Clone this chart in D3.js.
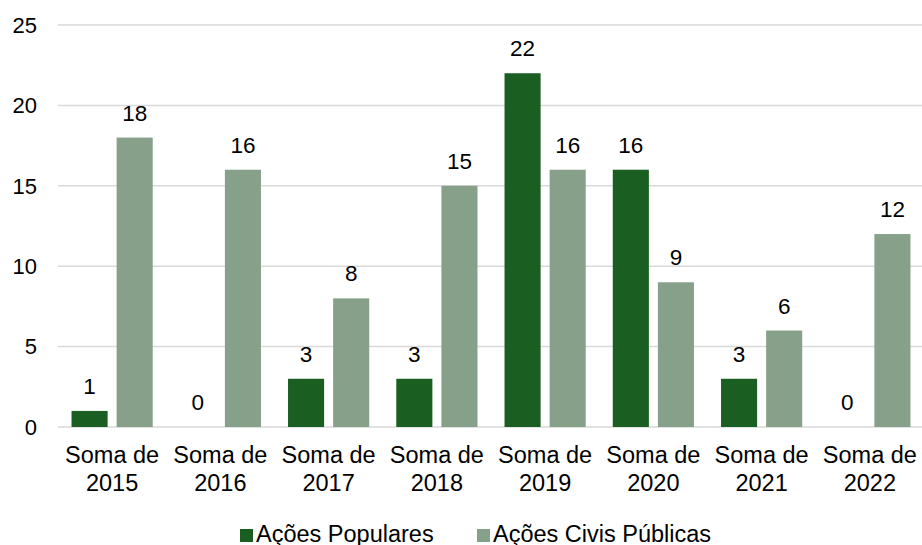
<!DOCTYPE html>
<html>
<head>
<meta charset="utf-8">
<script src="https://cdn.jsdelivr.net/npm/d3@7"></script>
<style>
    body { margin: 0; background: #fff; }
    svg { display: block; font-family: "Liberation Sans", Arial, sans-serif; }
</style>
</head>
<body>
<svg width="922" height="545"></svg>
<script>
// chart data
const years = ["2015", "2016", "2017", "2018", "2019", "2020", "2021", "2022"];
const seriesNames = ["Ações Populares", "Ações Civis Públicas"];
const acoesPopulares = [1, 0, 3, 3, 22, 16, 3, 0];
const acoesCivisPublicas = [18, 16, 8, 15, 16, 9, 6, 12];
const yTicks = [0, 5, 10, 15, 20, 25];
const colors = ["#1a5e21", "#87a08a"];

const margin = { top: 25, left: 58, right: -2, bottom: 118 },
    width = 922 - margin.left - margin.right,
    height = 545 - margin.top - margin.bottom;

const svg = d3.select("svg");
const g = svg.append("g")
    .attr("transform", "translate(" + margin.left + "," + margin.top + ")");

const x = d3.scaleBand()
    .domain(years)
    .range([0, width])
    .paddingInner(0)
    .paddingOuter(0);

const inner = d3.scaleBand()
    .domain(seriesNames)
    .range([x.bandwidth() * 0.125, x.bandwidth() * 0.875])
    .paddingInner(0.2);

const y = d3.scaleLinear()
    .domain([0, 25])
    .range([height, 0]);

// gridlines
g.selectAll(".grid")
    .data(yTicks)
    .enter()
    .append("line")
        .attr("x1", 0)
        .attr("x2", width)
        .attr("y1", d => y(d))
        .attr("y2", d => y(d))
        .attr("stroke", "#d9d9d9")
        .attr("stroke-width", 1.5);

// y tick labels
g.selectAll(".ytick")
    .data(yTicks)
    .enter()
    .append("text")
        .attr("x", -21)
        .attr("y", d => y(d))
        .attr("dy", "0.35em")
        .attr("text-anchor", "end")
        .style("font-size", "22px")
        .attr("fill", "#000")
        .text(d => d);

const rows = years.map((yr, i) => ({
    year: yr,
    values: [
        { name: seriesNames[0], value: acoesPopulares[i] },
        { name: seriesNames[1], value: acoesCivisPublicas[i] }
    ]
}));

const groups = g.selectAll(".year")
    .data(rows)
    .enter()
    .append("g")
        .attr("transform", d => "translate(" + x(d.year) + ",0)");

groups.selectAll("rect")
    .data(d => d.values)
    .enter()
    .append("rect")
        .attr("x", d => inner(d.name))
        .attr("width", inner.bandwidth())
        .attr("y", d => y(d.value))
        .attr("height", d => height - y(d.value))
        .attr("fill", (d, i) => colors[i]);

groups.selectAll(".label")
    .data(d => d.values)
    .enter()
    .append("text")
        .attr("x", d => inner(d.name) + inner.bandwidth() / 2)
        .attr("y", d => y(d.value) - 17)
        .attr("text-anchor", "middle")
        .style("font-size", "22.5px")
        .text(d => d.value);

// category labels (two lines)
const cat = groups.append("text")
    .attr("text-anchor", "middle")
    .style("font-size", "23.5px");
cat.append("tspan")
    .attr("x", x.bandwidth() / 2)
    .attr("y", height + 36)
    .text("Soma de");
cat.append("tspan")
    .attr("x", x.bandwidth() / 2)
    .attr("y", height + 64)
    .text(d => d.year);

// legend
const legendX = [240, 477];
const legend = svg.selectAll(".legend")
    .data(seriesNames)
    .enter()
    .append("g")
        .attr("transform", (d, i) => "translate(" + legendX[i] + ",529)");
legend.append("rect")
    .attr("width", 13)
    .attr("height", 13)
    .attr("fill", (d, i) => colors[i]);
legend.append("text")
    .attr("x", 16)
    .attr("y", 12.5)
    .style("font-size", "23.5px")
    .text(d => d);
</script>
</body>
</html>
